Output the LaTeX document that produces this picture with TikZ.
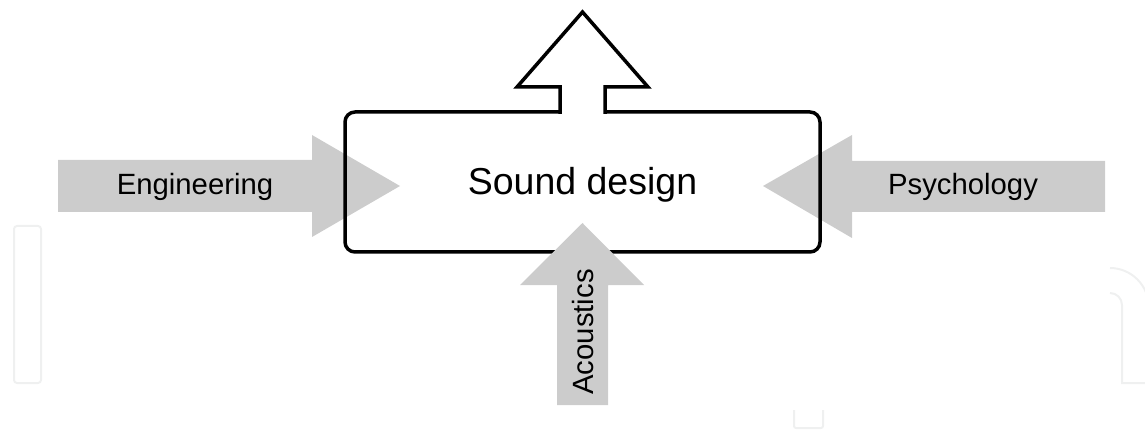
\documentclass[tikz,border=0pt]{standalone}
\usepackage{fontspec}
\setmainfont{Liberation Sans}
\definecolor{arrowgray}{HTML}{CCCCCC}
\definecolor{markgray}{HTML}{EFF0F0}
\tikzset{
  inarrow/.style={fill=arrowgray, draw=none},
  boxline/.style={draw=black, line width=3.5pt, line join=miter},
  mainlabel/.style={font=\fontsize{37.5}{40}\selectfont, inner sep=0pt, anchor=base},
  armlabel/.style={font=\fontsize{29.3}{32}\selectfont, inner sep=0pt, anchor=base},
  faintline/.style={draw=markgray, line width=2pt}
}
\begin{document}
\begin{tikzpicture}[x=1pt,y=-1pt]
\useasboundingbox (0,0) rectangle (1145,430);
\clip (0,0) rectangle (1145,430);
% faint background marks
\draw[faintline, rounded corners=3pt] (14,226) rectangle (41,383);
\draw[faintline, rounded corners=2pt] (794,410) -- (794,428) -- (823,428) -- (823,410);
\draw[faintline] (1110,268) .. controls (1131.4,268) and (1148.8,285.6) .. (1148.8,307);
\draw[faintline] (1110,293) .. controls (1116.6,293) and (1122,298.4) .. (1122,305) -- (1122,383) -- (1150,383);
% side arrows
\path[inarrow] (58,160) -- (312,160) -- (312,135) -- (400,186) -- (312,237) -- (312,212) -- (58,212) -- cycle;
\path[inarrow] (1105,161) -- (852,161) -- (852,135) -- (763,186) -- (852,238) -- (852,212) -- (1105,212) -- cycle;
% box with output arrow
\draw[boxline, rounded corners=10pt] (345,112) rectangle (820,252);
\filldraw[boxline, fill=white] (560,114) -- (560,87) -- (517,87) -- (582.5,12) -- (648,87) -- (605,87) -- (605,114);
% bottom arrow
\path[inarrow] (557,405) -- (557,285) -- (520,285) -- (582.5,223) -- (644,285) -- (608,285) -- (608,405) -- cycle;
% labels
\node[mainlabel] (sd) at (582.5,195) {Sound design};
\node[armlabel] (eng) at (195,195) {Engineering};
\node[armlabel] (psy) at (963,195) {Psychology};
\node[armlabel, rotate=90] (aco) at (593,332) {Acoustics};
\end{tikzpicture}
\end{document}
